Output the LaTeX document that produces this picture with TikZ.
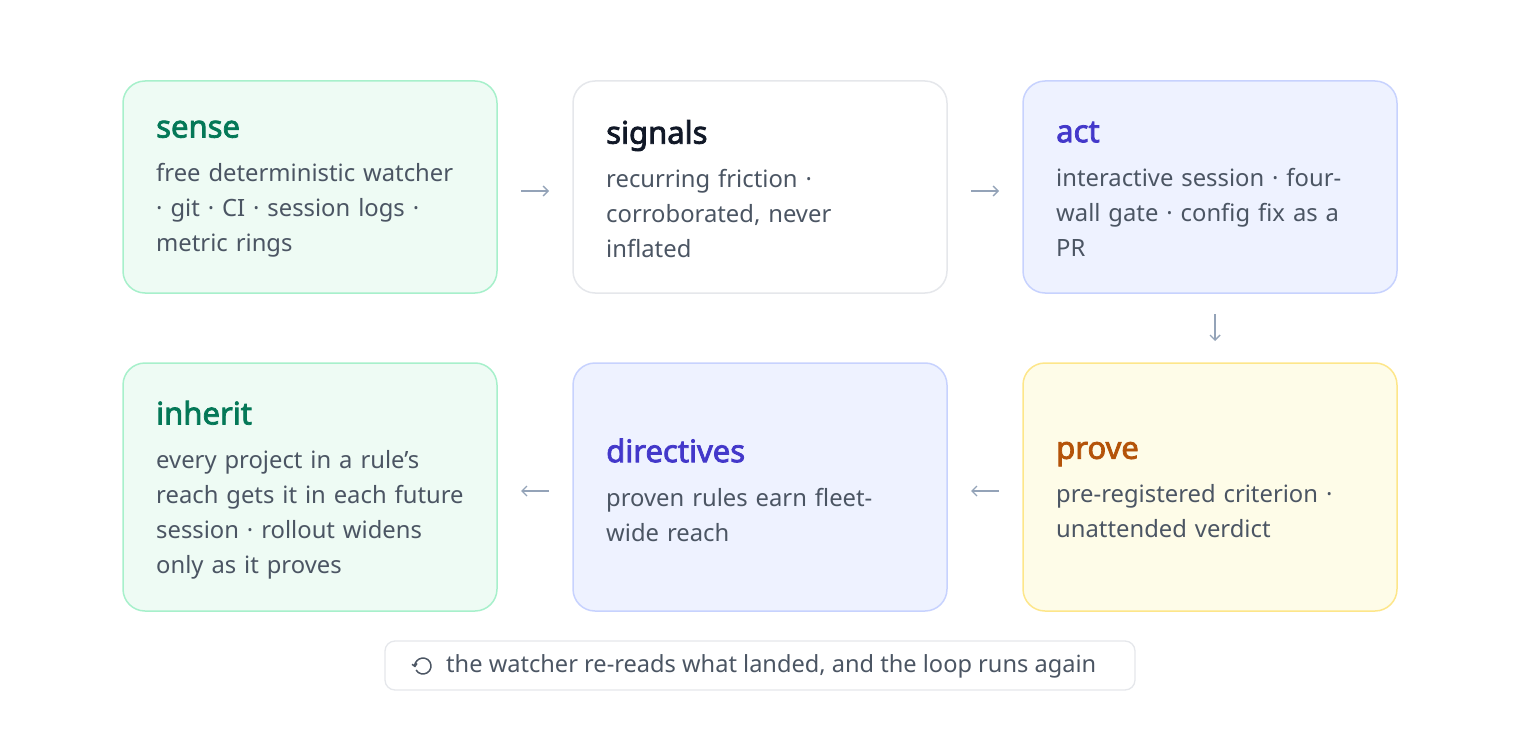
\documentclass[tikz,border=0pt]{standalone}
\usepackage{fontspec}
\setmainfont{Noto Sans}
\newfontfamily\titlefont[FakeBold=2.5]{Noto Sans}
\usetikzlibrary{arrows.meta}
\definecolor{gfill}{HTML}{EEFBF4}\definecolor{gline}{HTML}{A7F0CB}\definecolor{gtext}{HTML}{047857}
\definecolor{wline}{HTML}{E5E7EB}\definecolor{wtext}{HTML}{111827}
\definecolor{bfill}{HTML}{EEF2FF}\definecolor{bline}{HTML}{C7D2FE}\definecolor{btext}{HTML}{4338CA}
\definecolor{yfill}{HTML}{FEFCE8}\definecolor{yline}{HTML}{FDE68A}\definecolor{ytext}{HTML}{B45309}
\definecolor{body}{HTML}{4B5563}\definecolor{arr}{HTML}{94A3B8}
\tikzset{
  card/.style={draw=#1, line width=1.5pt, rounded corners=22pt},
  content/.style={anchor=west, align=left, text width=330pt, inner sep=0pt, text=body,
     font=\fontsize{23.8}{35}\selectfont},
  flow/.style={draw=arr, line width=1.4pt, -{Straight Barb[length=5pt,width=10pt]}}
}
\newcommand{\cardtext}[3]{{\color{#1}\titlefont\fontsize{31}{32}\selectfont #2}\par\vspace{9pt}#3}
\begin{document}
\begin{tikzpicture}[x=1pt,y=-1pt]
\useasboundingbox (0,0) rectangle (1520,754);
\filldraw[card=gline, fill=gfill] (123,81) rectangle (497,293);
\filldraw[card=wline, fill=white] (573,81) rectangle (947,293);
\filldraw[card=bline, fill=bfill] (1023,81) rectangle (1397,293);
\filldraw[card=gline, fill=gfill] (123,363) rectangle (497,611);
\filldraw[card=bline, fill=bfill] (573,363) rectangle (947,611);
\filldraw[card=yline, fill=yfill] (1023,363) rectangle (1397,611);
\node[content] (sense) at (156,189) {\cardtext{gtext}{sense}{free deterministic watcher\\ · git · CI · session logs ·\\ metric rings}};
\node[content] (signals) at (606,189) {\cardtext{wtext}{signals}{recurring friction ·\\ corroborated, never\\ inflated}};
\node[content] (act) at (1056,189) {\cardtext{btext}{act}{interactive session · four-\\ wall gate · config fix as a\\ PR}};
\node[content] (inherit) at (156,490) {\cardtext{gtext}{inherit}{every project in a rule\char39 s\\ reach gets it in each future\\ session · rollout widens\\ only as it proves}};
\node[content] (directives) at (606,490) {\cardtext{btext}{directives}{proven rules earn fleet-\\ wide reach}};
\node[content] (prove) at (1056,490) {\cardtext{ytext}{prove}{pre-registered criterion ·\\ unattended verdict}};
\coordinate (a1) at (521,191); \coordinate (a2) at (549,191);
\coordinate (b1) at (971,191); \coordinate (b2) at (999,191);
\coordinate (c1) at (1215,314); \coordinate (c2) at (1215,341);
\coordinate (d1) at (999,491); \coordinate (d2) at (971,491);
\coordinate (e1) at (549,491); \coordinate (e2) at (521,491);
\draw[flow] (a1) -- (a2);
\draw[flow] (b1) -- (b2);
\draw[flow] (c1) -- (c2);
\draw[flow] (d1) -- (d2);
\draw[flow] (e1) -- (e2);
\filldraw[draw=wline, line width=1.3pt, fill=white, rounded corners=10pt] (385,641) rectangle (1135,690);
\draw[draw=body, line width=1.5pt, -{Straight Barb[length=2.5pt,width=5pt]}] (423,666) ++(150:8) arc[start angle=150, end angle=-190, radius=8];
\node[anchor=west, inner sep=0pt, text=body, font=\fontsize{23.6}{26}\selectfont] (foot) at (446,666) {the watcher re-reads what landed, and the loop runs again};
\end{tikzpicture}
\end{document}
